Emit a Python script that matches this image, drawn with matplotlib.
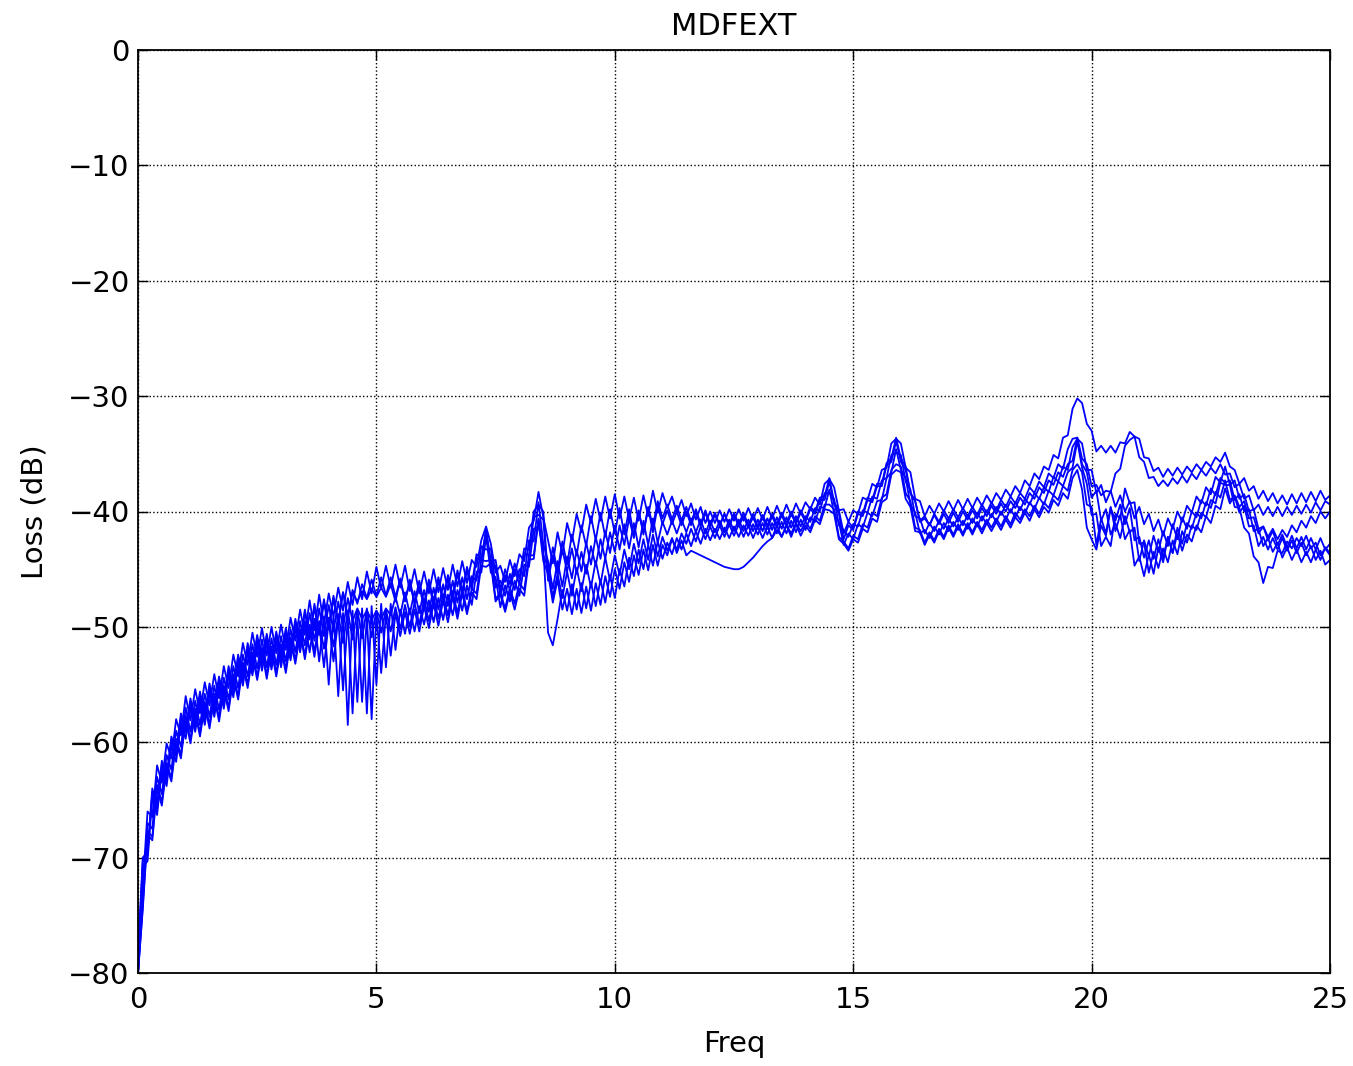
import numpy as np
import matplotlib
matplotlib.use("Agg")
import matplotlib.pyplot as plt

# frequency sample points (0.1 step, 0..25)
FREQ = np.linspace(0, 25, 251)

# MDFEXT loss curves (dB), one list per crosstalk pair
S1 = [
    -80.0, -72.5, -66.0, -66.5, -62.0, -63.5, -60.1, -61.4, -58.0, -59.4,
    -56.0, -58.1, -55.4, -57.5, -54.8, -56.8, -54.1, -56.2, -53.4, -55.3,
    -52.4, -54.3, -51.4, -53.3, -50.5, -52.6, -50.1, -52.5, -50.0, -52.3,
    -49.8, -52.0, -49.2, -51.2, -48.5, -50.7, -47.7, -50.3, -47.2, -49.8,
    -47.1, -49.1, -46.6, -48.6, -46.1, -48.1, -45.7, -47.6, -45.2, -47.1,
    -44.8, -46.7, -44.7, -46.6, -44.6, -46.6, -44.7, -46.9, -45.0, -47.1,
    -45.2, -47.1, -45.0, -47.0, -44.9, -46.8, -44.6, -46.5, -44.3, -46.2,
    -44.2, -44.8, -42.5, -41.3, -42.8, -45.3, -44.7, -46.1, -44.2, -45.6,
    -43.7, -44.3, -41.4, -40.8, -38.3, -40.5, -42.5, -44.5, -41.8, -43.7,
    -41.0, -42.6, -40.2, -41.8, -39.4, -41.0, -38.9, -40.8, -38.7, -40.6,
    -38.5, -40.6, -38.7, -40.7, -38.8, -40.8, -38.6, -40.4, -38.2, -40.1,
    -38.4, -39.7, -38.7, -40.1, -39.0, -40.4, -39.3, -40.7, -39.6, -41.0,
    -40.0, -41.0, -39.9, -40.9, -39.8, -40.8, -39.8, -40.8, -39.7, -40.7,
    -39.7, -40.7, -39.6, -40.6, -39.5, -40.5, -39.4, -40.4, -39.3, -40.2,
    -39.2, -39.8, -38.8, -39.4, -37.6, -37.2, -37.9, -39.9, -39.8, -40.9,
    -39.9, -40.2, -38.8, -39.0, -37.6, -37.9, -36.4, -36.2, -34.1, -33.7,
    -34.1, -36.2, -36.6, -38.9, -39.1, -40.4, -39.5, -40.2, -39.3, -40.0,
    -39.1, -39.9, -39.0, -39.8, -38.9, -39.7, -38.8, -39.5, -38.6, -39.3,
    -38.4, -39.0, -38.1, -38.7, -37.8, -38.4, -37.3, -37.8, -36.7, -37.2,
    -36.1, -36.4, -35.1, -35.4, -33.6, -33.4, -31.1, -30.2, -30.6, -32.4,
    -33.0, -34.8, -34.3, -34.9, -34.3, -34.9, -34.0, -34.1, -33.1, -33.5,
    -33.7, -35.3, -35.4, -36.5, -36.2, -37.0, -36.3, -36.9, -36.2, -36.8,
    -36.1, -36.6, -35.9, -36.4, -35.7, -36.1, -35.3, -35.7, -34.9, -36.1,
    -36.4, -37.6, -37.1, -38.2, -37.8, -38.9, -38.2, -39.1, -38.4, -39.3,
    -38.6, -39.4, -38.5, -39.3, -38.4, -39.2, -38.3, -39.1, -38.2, -39.0,
    -38.6,
]

S2 = [
    -78.5, -70.0, -69.5, -64.0, -65.5, -61.6, -63.0, -59.5, -60.9, -57.5,
    -58.9, -56.2, -58.3, -55.6, -57.7, -54.9, -57.0, -54.3, -56.3, -53.4,
    -55.3, -52.4, -54.3, -51.4, -53.4, -50.7, -53.0, -50.6, -52.9, -50.4,
    -52.7, -50.1, -52.1, -49.3, -51.4, -48.5, -50.9, -48.0, -50.4, -47.6,
    -49.9, -47.3, -49.5, -47.0, -49.2, -47.0, -47.8, -46.9, -47.6, -46.7,
    -47.4, -46.6, -47.4, -46.3, -47.8, -45.8, -47.8, -45.9, -47.9, -46.0,
    -48.0, -45.9, -47.8, -45.7, -47.6, -45.5, -47.3, -45.1, -46.9, -44.8,
    -46.4, -43.7, -44.1, -41.6, -44.3, -44.2, -46.8, -45.0, -46.3, -44.5,
    -45.8, -43.2, -43.3, -40.0, -39.4, -40.0, -45.7, -43.1, -45.2, -42.6,
    -44.6, -42.0, -43.8, -41.2, -43.0, -40.4, -42.5, -40.1, -42.2, -39.8,
    -41.9, -39.7, -42.0, -39.8, -42.1, -39.9, -42.0, -39.7, -41.8, -39.5,
    -41.1, -39.9, -41.1, -40.0, -41.2, -40.0, -41.2, -40.0, -41.3, -40.1,
    -41.3, -40.3, -41.2, -40.2, -41.2, -40.1, -41.1, -40.1, -41.2, -40.2,
    -41.3, -40.3, -41.2, -40.2, -41.1, -40.1, -41.0, -40.0, -40.9, -39.9,
    -40.7, -39.6, -40.0, -38.8, -38.7, -37.1, -39.2, -39.9, -41.9, -40.9,
    -41.4, -40.0, -40.2, -38.8, -39.0, -37.6, -37.6, -35.8, -35.4, -33.6,
    -35.4, -36.1, -38.4, -39.1, -40.9, -40.6, -41.2, -40.2, -40.9, -39.9,
    -40.6, -39.8, -40.5, -39.7, -40.4, -39.6, -40.3, -39.4, -40.1, -39.2,
    -39.9, -39.0, -39.6, -38.7, -39.3, -38.4, -38.9, -37.9, -38.4, -37.4,
    -37.9, -36.7, -37.1, -35.9, -36.3, -34.6, -33.7, -33.6, -35.4, -35.9,
    -37.8, -37.7, -38.6, -38.2, -38.3, -36.7, -36.3, -34.3, -33.8, -33.5,
    -35.3, -35.7, -37.1, -37.0, -37.8, -37.3, -37.8, -37.1, -37.6, -36.9,
    -37.5, -36.7, -37.2, -36.4, -36.9, -36.2, -36.7, -35.9, -36.8, -36.7,
    -37.9, -37.6, -38.9, -38.6, -39.9, -39.4, -40.3, -39.6, -40.4, -39.6,
    -40.4, -39.6, -40.3, -39.5, -40.2, -39.4, -40.1, -39.2, -39.9, -39.1,
    -39.4,
]

S3 = [
    -80.0, -73.5, -67.0, -67.5, -63.0, -64.5, -61.1, -62.4, -59.0, -60.4,
    -57.0, -59.1, -56.4, -58.5, -55.8, -57.8, -55.1, -57.2, -54.4, -56.3,
    -53.4, -55.3, -52.4, -54.3, -51.5, -53.6, -51.1, -53.5, -51.0, -53.3,
    -50.8, -53.0, -50.2, -52.2, -49.5, -51.6, -48.8, -51.2, -48.4, -50.8,
    -48.1, -50.4, -47.8, -50.1, -47.5, -49.5, -48.4, -49.3, -48.6, -49.4,
    -48.6, -49.3, -48.4, -49.0, -47.4, -49.0, -47.0, -48.9, -46.9, -48.8,
    -46.8, -48.7, -46.6, -48.5, -46.3, -48.2, -46.0, -47.9, -45.7, -47.6,
    -45.6, -46.0, -43.0, -43.3, -43.2, -46.6, -46.0, -47.3, -45.4, -46.8,
    -45.0, -45.6, -42.5, -42.6, -39.2, -42.8, -44.3, -46.7, -44.3, -46.5,
    -43.9, -45.8, -43.3, -45.2, -42.7, -44.6, -42.2, -44.1, -41.7, -43.6,
    -41.2, -43.3, -41.1, -43.2, -41.0, -43.1, -40.8, -42.9, -40.6, -42.7,
    -40.9, -42.0, -40.8, -41.9, -40.7, -41.8, -40.6, -41.8, -40.7, -41.9,
    -40.8, -41.8, -40.8, -41.8, -40.7, -41.7, -40.7, -41.7, -40.7, -41.7,
    -40.7, -41.7, -40.6, -41.6, -40.5, -41.5, -40.5, -41.4, -40.4, -41.3,
    -40.4, -40.9, -39.7, -40.0, -38.4, -38.4, -38.9, -41.2, -41.6, -42.2,
    -41.1, -41.3, -39.9, -40.1, -38.7, -38.9, -37.3, -37.1, -35.1, -34.9,
    -35.1, -37.4, -38.1, -40.4, -40.6, -41.9, -41.0, -41.7, -40.8, -41.5,
    -40.6, -41.3, -40.5, -41.2, -40.3, -41.0, -40.1, -40.8, -39.9, -40.5,
    -39.6, -40.3, -39.4, -40.1, -39.2, -39.9, -38.9, -39.4, -38.4, -38.9,
    -37.9, -38.3, -37.0, -37.4, -36.1, -36.4, -34.4, -33.7, -34.1, -36.4,
    -36.4, -38.4, -37.7, -39.2, -38.2, -39.6, -38.6, -40.0, -39.1, -40.6,
    -39.6, -41.1, -40.2, -41.7, -40.7, -42.1, -40.6, -41.5, -40.0, -40.9,
    -39.5, -40.1, -38.7, -39.3, -37.9, -38.5, -37.0, -37.5, -36.1, -37.7,
    -37.3, -38.9, -38.5, -40.0, -39.8, -41.5, -41.3, -42.5, -41.7, -42.9,
    -42.0, -43.1, -42.1, -43.2, -42.2, -43.3, -42.3, -43.3, -42.3, -43.3,
    -42.8,
]

S4 = [
    -80.0, -70.8, -70.3, -64.8, -66.3, -62.4, -63.8, -60.3, -61.7, -58.3,
    -59.7, -57.0, -59.1, -56.4, -58.5, -55.7, -57.8, -55.1, -57.1, -54.2,
    -56.1, -53.2, -55.1, -52.2, -54.2, -51.5, -53.8, -51.4, -53.7, -51.2,
    -53.5, -50.9, -52.9, -50.1, -52.2, -49.5, -52.2, -49.3, -53.0, -49.1,
    -55.0, -49.0, -56.0, -48.8, -58.5, -48.6, -56.5, -48.4, -57.5, -48.2,
    -55.0, -48.0, -53.5, -48.0, -52.0, -48.5, -50.6, -48.4, -50.4, -48.2,
    -49.8, -47.7, -49.6, -47.5, -49.4, -47.2, -49.0, -46.8, -48.6, -46.4,
    -48.1, -45.2, -45.3, -42.2, -45.3, -45.7, -48.3, -46.4, -47.8, -46.0,
    -47.3, -44.6, -44.8, -41.5, -41.3, -43.2, -50.5, -51.6, -49.3, -46.8,
    -48.6, -46.3, -48.5, -46.2, -48.4, -46.1, -48.2, -45.9, -47.9, -45.5,
    -47.5, -45.0, -46.5, -44.0, -45.6, -43.3, -45.0, -42.9, -44.7, -42.6,
    -44.1, -42.7, -43.7, -42.3, -43.3, -41.9, -43.0, -41.7, -42.8, -41.5,
    -42.5, -41.5, -42.4, -41.4, -42.3, -41.3, -42.2, -41.2, -42.1, -41.1,
    -42.0, -41.0, -42.0, -41.0, -41.9, -40.9, -41.9, -40.8, -41.8, -40.7,
    -41.6, -40.5, -40.9, -39.6, -39.7, -38.1, -40.2, -40.9, -42.9, -41.9,
    -42.4, -41.1, -41.4, -40.1, -40.4, -39.1, -39.0, -37.1, -36.6, -34.6,
    -36.4, -37.1, -39.4, -40.1, -41.9, -41.6, -42.3, -41.3, -42.0, -41.0,
    -41.7, -40.9, -41.6, -40.8, -41.5, -40.6, -41.3, -40.4, -41.1, -40.2,
    -40.9, -40.0, -40.7, -39.8, -40.5, -39.6, -40.2, -39.2, -39.8, -38.8,
    -39.4, -38.2, -38.6, -37.4, -37.8, -36.6, -36.2, -33.9, -36.2, -37.6,
    -40.3, -40.2, -43.0, -42.2, -43.0, -40.2, -40.6, -38.0, -39.3, -39.2,
    -42.8, -42.7, -45.3, -43.5, -44.9, -43.2, -44.4, -42.5, -43.7, -41.7,
    -42.7, -41.2, -41.6, -40.1, -40.5, -39.0, -39.3, -37.5, -37.7, -37.7,
    -39.6, -39.7, -41.4, -41.9, -43.9, -44.4, -46.2, -44.8, -44.9, -43.4,
    -43.6, -42.6, -43.2, -42.3, -43.0, -42.1, -43.2, -42.7, -43.8, -43.2,
    -43.8,
]

S5 = [
    -80.0, -74.2, -67.7, -68.2, -63.7, -65.2, -61.8, -63.1, -59.7, -61.1,
    -57.7, -59.8, -57.1, -59.2, -56.5, -58.5, -55.8, -57.9, -55.1, -57.0,
    -54.1, -56.0, -53.1, -55.0, -52.2, -54.3, -51.8, -54.2, -51.7, -54.0,
    -51.5, -53.7, -50.9, -52.9, -50.2, -52.5, -49.8, -52.2, -49.5, -51.9,
    -49.2, -51.7, -48.9, -51.4, -48.6, -51.1, -48.5, -51.0, -48.4, -50.9,
    -48.6, -50.5, -48.5, -50.4, -48.3, -50.2, -48.1, -50.0, -47.9, -49.8,
    -47.6, -49.5, -47.4, -49.3, -47.2, -49.0, -46.9, -48.8, -46.7, -48.6,
    -46.7, -47.1, -44.2, -44.3, -44.2, -47.6, -47.0, -48.4, -46.6, -48.0,
    -46.2, -46.8, -43.8, -43.8, -40.6, -43.8, -44.9, -47.4, -45.4, -47.5,
    -45.2, -47.3, -44.9, -46.9, -44.6, -46.6, -44.3, -46.3, -44.0, -46.0,
    -43.8, -45.5, -43.3, -45.0, -42.8, -44.5, -42.4, -44.2, -42.0, -43.9,
    -42.2, -43.4, -42.3, -43.6, -42.5, -43.8, -43.4, -43.6, -43.8, -44.0,
    -44.2, -44.4, -44.6, -44.8, -44.9, -45.0, -45.0, -44.8, -44.4, -44.0,
    -43.5, -43.0, -42.6, -42.3, -41.6, -42.2, -41.2, -41.9, -41.0, -41.7,
    -40.9, -41.5, -40.4, -40.8, -39.4, -39.4, -39.8, -42.2, -42.6, -43.2,
    -42.1, -42.4, -41.1, -41.4, -40.1, -40.4, -38.8, -38.5, -36.4, -35.9,
    -36.1, -38.4, -39.1, -41.4, -41.6, -42.7, -41.8, -42.5, -41.5, -42.2,
    -41.2, -42.0, -41.1, -41.9, -41.0, -41.8, -40.9, -41.6, -40.7, -41.4,
    -40.6, -41.3, -40.4, -41.1, -40.1, -40.7, -39.8, -40.4, -39.5, -40.2,
    -39.2, -39.7, -38.6, -39.0, -37.8, -38.2, -36.4, -35.9, -36.6, -39.4,
    -39.6, -42.9, -40.6, -41.9, -39.6, -41.7, -40.3, -42.4, -41.6, -44.7,
    -43.9, -45.6, -43.7, -45.4, -43.1, -44.4, -42.2, -43.6, -41.4, -42.8,
    -41.0, -41.5, -40.1, -40.6, -39.2, -39.7, -38.3, -38.8, -37.3, -39.0,
    -38.7, -40.1, -39.5, -41.3, -41.2, -43.0, -42.2, -43.3, -42.3, -43.3,
    -42.3, -43.4, -42.5, -43.6, -42.7, -43.8, -43.0, -44.2, -43.4, -44.6,
    -44.2,
]

S6 = [
    -80.0, -74.5, -68.0, -68.5, -64.0, -65.5, -62.1, -63.4, -60.0, -61.4,
    -58.0, -60.1, -57.4, -59.5, -56.8, -58.8, -56.1, -58.2, -55.4, -57.3,
    -54.4, -56.3, -53.4, -55.3, -52.5, -54.6, -52.1, -54.5, -52.0, -54.3,
    -51.8, -54.0, -51.2, -53.2, -50.5, -52.8, -50.1, -52.6, -49.8, -53.5,
    -49.5, -53.0, -49.3, -55.5, -49.2, -57.5, -49.1, -56.5, -49.0, -58.0,
    -48.9, -54.0, -48.9, -52.5, -48.8, -50.8, -48.7, -50.6, -48.5, -50.4,
    -48.2, -50.1, -48.0, -49.9, -47.7, -49.6, -47.4, -49.3, -47.1, -48.9,
    -47.0, -47.6, -44.7, -44.8, -44.5, -47.8, -47.2, -48.7, -47.0, -48.5,
    -46.7, -47.3, -44.2, -44.1, -40.7, -44.3, -45.4, -47.9, -45.9, -48.5,
    -46.7, -48.9, -46.7, -48.8, -46.5, -48.6, -46.2, -48.1, -45.6, -47.4,
    -45.0, -46.7, -44.4, -46.1, -43.8, -45.5, -43.3, -45.1, -42.9, -44.7,
    -42.9, -43.8, -42.4, -43.3, -41.9, -42.8, -41.5, -42.6, -41.3, -42.4,
    -41.3, -42.3, -41.2, -42.2, -41.1, -42.1, -41.1, -42.2, -41.2, -42.3,
    -41.3, -42.3, -41.3, -42.3, -41.2, -42.2, -41.2, -42.2, -41.1, -42.1,
    -41.2, -41.8, -40.7, -41.1, -39.8, -39.9, -40.2, -42.4, -42.8, -43.4,
    -42.4, -42.7, -41.5, -41.8, -40.6, -40.9, -39.2, -38.9, -36.8, -36.4,
    -36.6, -38.9, -39.6, -41.7, -41.8, -42.9, -42.0, -42.7, -41.7, -42.4,
    -41.4, -42.2, -41.3, -42.1, -41.2, -42.0, -41.1, -41.9, -41.0, -41.7,
    -40.9, -41.6, -40.7, -41.4, -40.5, -41.0, -40.1, -40.8, -39.8, -40.5,
    -39.6, -40.1, -39.0, -39.5, -38.4, -38.9, -37.1, -36.4, -38.1, -41.4,
    -42.4, -43.3, -41.2, -42.1, -39.7, -40.8, -39.4, -41.1, -39.7, -42.5,
    -42.2, -44.0, -42.5, -44.1, -42.4, -44.0, -42.2, -43.6, -41.9, -43.4,
    -42.0, -42.6, -41.2, -41.8, -40.4, -41.0, -39.5, -39.8, -38.0, -39.3,
    -38.6, -39.6, -39.1, -40.6, -40.5, -41.9, -41.3, -42.2, -41.5, -42.4,
    -41.6, -42.2, -41.2, -41.8, -40.8, -41.4, -40.4, -41.0, -40.0, -40.6,
    -40.0,
]

S7 = [
    -79.0, -70.3, -69.8, -64.3, -65.8, -61.9, -63.3, -59.8, -61.2, -57.8,
    -59.2, -56.5, -58.6, -55.9, -58.0, -55.2, -57.3, -54.6, -56.6, -53.7,
    -55.6, -52.7, -54.6, -51.7, -53.7, -51.0, -53.3, -50.9, -53.2, -50.7,
    -53.0, -50.4, -52.4, -49.6, -51.7, -48.7, -51.1, -48.3, -50.7, -47.9,
    -50.2, -47.6, -49.7, -47.0, -49.1, -46.8, -48.0, -46.3, -47.5, -45.9,
    -47.3, -45.7, -47.3, -45.7, -47.4, -45.9, -47.7, -46.2, -48.0, -46.5,
    -48.3, -46.2, -48.1, -46.0, -47.9, -45.8, -47.6, -45.4, -47.2, -45.1,
    -46.8, -44.0, -44.3, -41.6, -44.6, -44.7, -47.3, -45.5, -46.8, -45.0,
    -46.3, -43.6, -43.8, -40.5, -40.3, -40.7, -46.0, -43.8, -45.5, -43.3,
    -45.2, -43.2, -45.4, -43.5, -45.4, -43.0, -44.7, -42.4, -44.1, -41.8,
    -43.5, -41.2, -42.9, -40.6, -42.3, -40.0, -41.8, -39.6, -41.3, -39.1,
    -40.6, -39.4, -40.7, -39.5, -40.8, -39.6, -40.9, -39.8, -41.1, -39.9,
    -41.1, -40.1, -41.2, -40.2, -41.3, -40.3, -41.3, -40.4, -41.4, -40.5,
    -41.5, -40.5, -41.5, -40.4, -41.4, -40.3, -41.3, -40.2, -41.1, -40.1,
    -40.9, -39.8, -40.2, -39.0, -39.0, -37.4, -39.4, -40.2, -42.4, -41.2,
    -41.6, -40.2, -40.4, -39.0, -39.2, -37.8, -37.8, -36.0, -35.7, -33.9,
    -35.7, -36.4, -38.4, -39.1, -40.8, -40.4, -41.2, -40.3, -41.1, -40.2,
    -41.0, -40.1, -40.9, -40.0, -40.7, -39.9, -40.6, -39.7, -40.4, -39.5,
    -40.2, -39.3, -40.0, -39.1, -39.7, -38.8, -39.4, -38.4, -38.9, -37.9,
    -38.4, -37.3, -37.7, -36.6, -37.0, -35.9, -35.6, -33.6, -35.9, -36.6,
    -38.8, -38.2, -40.8, -39.8, -42.0, -41.0, -42.3, -40.4, -41.8, -41.4,
    -44.3, -42.5, -43.9, -42.1, -43.5, -41.7, -43.0, -41.1, -42.4, -40.5,
    -41.5, -40.0, -40.5, -39.0, -39.5, -38.0, -38.6, -37.1, -37.5, -37.3,
    -39.0, -38.5, -40.0, -39.8, -41.7, -41.5, -43.0, -42.3, -43.5, -42.7,
    -44.0, -43.1, -44.2, -43.3, -44.4, -43.5, -44.4, -43.3, -44.2, -43.1,
    -43.6,
]

SERIES = [S1, S2, S3, S4, S5, S6, S7]

X_TICKS = [0, 5, 10, 15, 20, 25]
Y_TICKS = [0, -10, -20, -30, -40, -50, -60, -70, -80]

fig = plt.figure(figsize=(13.53, 10.66), dpi=100, facecolor='white')
ax = fig.add_axes([138 / 1353, 93 / 1066, 1192 / 1353, 923 / 1066])

for s in SERIES:
    ax.plot(FREQ[:len(s)], s, color='b', linewidth=1.3)

ax.set_xlim(0, 25)
ax.set_ylim(-80, 0)
ax.set_xticks(X_TICKS)
ax.set_yticks(Y_TICKS)
ax.grid(True, color='k', linestyle=':', linewidth=1.0)
ax.tick_params(direction='in', length=7, width=1, labelsize=21,
               top=True, right=True, pad=6)
ax.tick_params(axis='x', pad=9)
for sp in ax.spines.values():
    sp.set_linewidth(1.3)

ax.set_title('MDFEXT', fontsize=22, pad=11)
ax.set_xlabel('Freq', fontsize=21, labelpad=12)
ax.set_ylabel('Loss (dB)', fontsize=21, labelpad=14)

plt.savefig('out.png', dpi=100, facecolor='white')
